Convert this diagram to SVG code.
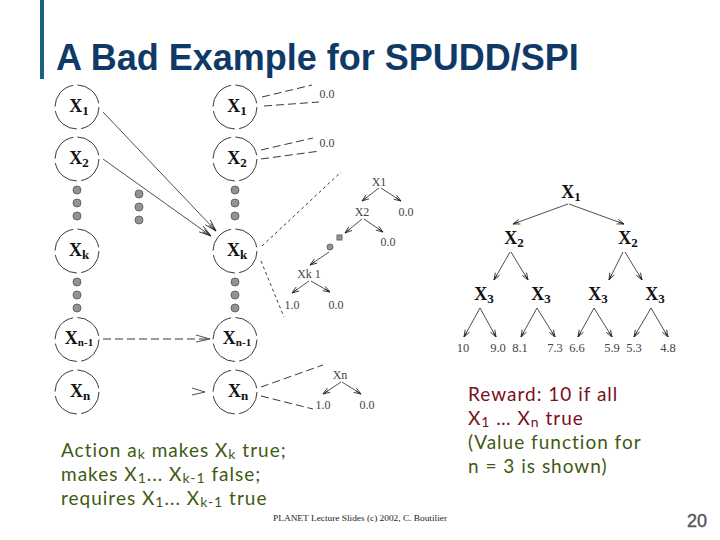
<svg xmlns="http://www.w3.org/2000/svg" width="720" height="540" viewBox="0 0 720 540">
<style>
.c{fill:#fff;stroke:#222;stroke-width:.9;stroke-dasharray:30 4.500}
.d{fill:#939393;stroke:#666;stroke-width:1}
.x{font:bold 18px "Liberation Serif",serif;fill:#111;text-anchor:middle}
.s{font-size:13px}
.n{font-size:11px}
.t{font:12px "Liberation Serif",serif;fill:#444;text-anchor:middle}
.l{font:12.500px "Liberation Serif",serif;fill:#444;text-anchor:middle}
.a{fill:none;stroke:#222;stroke-width:.8;marker-end:url(#o)}
.e{fill:none;stroke:#222;stroke-width:.8;marker-end:url(#p)}
.b{fill:none;stroke:#222;stroke-width:.9;stroke-dasharray:8 4}
.f{fill:none;stroke:#222;stroke-width:.9;stroke-dasharray:3 3}
.g{font:19px "Lato",sans-serif;letter-spacing:1px;fill:#3f5a14}
.r{font:19px "Lato",sans-serif;letter-spacing:1px;fill:#7a1020}
.u{font-size:14px}
</style>
<defs>
<marker id="o" markerUnits="userSpaceOnUse" markerWidth="9" markerHeight="8" refX="8" refY="4" orient="auto"><path d="M1 1.500L8 4L1 6.500M8 4L2 4" fill="none" stroke="#222" stroke-width=".8"/></marker>
<marker id="p" markerUnits="userSpaceOnUse" markerWidth="14" markerHeight="10" refX="13" refY="5" orient="auto"><path d="M1 1.500L13 5L1 8.500M13 5L4 3.500M13 5L4 6.500" fill="none" stroke="#222" stroke-width=".8"/></marker>
</defs>
<rect x="40" y="0" width="4" height="79" fill="#1f5f82"/>
<text x="56" y="70" font-family="Liberation Sans,sans-serif" font-weight="700" font-size="36" fill="#0f3a68">A Bad Example for SPUDD/SPI</text>

<g id="connectors">
<path class="e" d="M103 112L216 231"/>
<path class="e" d="M103 159L211 236"/>
<path class="b" d="M103 339H210"/>
<path d="M196 335L210 339L196 342" fill="none" stroke="#222" stroke-width=".8"/>
<path d="M192 388L205 392L192 395" fill="none" stroke="#222" stroke-width=".8"/>
<path class="b" d="M262 97L312 85M264 106L319 102M261 150L313 138M261 159L320 151M261 387L323 365M261 396L313 409"/>
<path class="f" d="M262 246L341 172M261 261L284 317"/>
<path class="a" d="M379 188L362 201"/><path class="a" d="M381 188L401 201"/>
<path class="a" d="M362 219L345 233"/><path class="a" d="M364 219L383 232"/>
<path class="a" d="M329 252L310 265"/>
<path class="a" d="M309 281L292 293"/><path class="a" d="M311 281L330 292"/>
<path class="a" d="M341 382L323 394"/><path class="a" d="M342 382L361 394"/>
<path class="a" d="M568 204L513 224"/><path class="a" d="M569 204L624 224"/>
<path class="a" d="M510 252L494 280"/><path class="a" d="M511 252L528 280"/>
<path class="a" d="M623 252L609 280"/><path class="a" d="M625 252L642 280"/>
<path class="a" d="M480 308L464 337"/><path class="a" d="M480 308L496 337"/>
<path class="a" d="M537 308L521 337"/><path class="a" d="M537 308L555 337"/>
<path class="a" d="M594 308L578 337"/><path class="a" d="M594 308L612 337"/>
<path class="a" d="M651 308L634 337"/><path class="a" d="M651 308L668 337"/>
</g>

<g id="l1"><circle class="c" cx="77" cy="107" r="22"/><text class="x" x="79" y="112">X<tspan class="s" dy="3">1</tspan></text></g>
<g id="l2"><circle class="c" cx="77" cy="159" r="22"/><text class="x" x="79" y="164">X<tspan class="s" dy="3">2</tspan></text></g>
<g id="lk"><circle class="c" cx="77" cy="251" r="22"/><text class="x" x="79" y="256">X<tspan class="s" dy="3">k</tspan></text></g>
<g id="ln1"><circle class="c" cx="77" cy="339.500" r="22"/><text class="x" x="79" y="344">X<tspan class="n" dy="2">n-1</tspan></text></g>
<g id="ln"><circle class="c" cx="77" cy="392" r="22"/><text class="x" x="80" y="397">X<tspan class="s" dy="3">n</tspan></text></g>
<g id="r1"><circle class="c" cx="235" cy="107" r="22"/><text class="x" x="237" y="112">X<tspan class="s" dy="3">1</tspan></text></g>
<g id="r2"><circle class="c" cx="235" cy="159" r="22"/><text class="x" x="237" y="164">X<tspan class="s" dy="3">2</tspan></text></g>
<g id="rk"><circle class="c" cx="235" cy="251" r="22"/><text class="x" x="237" y="256">X<tspan class="s" dy="3">k</tspan></text></g>
<g id="rn1"><circle class="c" cx="235" cy="339.500" r="22"/><text class="x" x="237" y="344">X<tspan class="n" dy="2">n-1</tspan></text></g>
<g id="rn"><circle class="c" cx="235" cy="392" r="22"/><text class="x" x="238" y="397">X<tspan class="s" dy="3">n</tspan></text></g>

<g id="dots">
<circle class="d" cx="77" cy="190" r="4"/><circle class="d" cx="77" cy="203" r="4"/><circle class="d" cx="77" cy="216" r="4"/>
<circle class="d" cx="139" cy="194" r="4"/><circle class="d" cx="139" cy="207" r="4"/><circle class="d" cx="139" cy="220" r="4"/>
<circle class="d" cx="235" cy="190" r="4"/><circle class="d" cx="235" cy="203" r="4"/><circle class="d" cx="235" cy="216" r="4"/>
<circle class="d" cx="77" cy="282" r="4"/><circle class="d" cx="77" cy="295" r="4"/><circle class="d" cx="77" cy="308" r="4"/>
<circle class="d" cx="235" cy="282" r="4"/><circle class="d" cx="235" cy="295" r="4"/><circle class="d" cx="235" cy="308" r="4"/>
<rect class="d" x="337" y="235" width="5" height="5"/><circle class="d" cx="330" cy="247" r="3"/>
</g>

<g id="small-trees">
<text class="t" x="327" y="98">0.0</text><text class="t" x="327" y="147">0.0</text>
<text class="t" x="379" y="186">X1</text><text class="t" x="362" y="216">X2</text><text class="t" x="406" y="216">0.0</text><text class="t" x="388" y="246">0.0</text>
<text class="t" x="309" y="278" xml:space="preserve">Xk 1</text><text class="t" x="292" y="309">1.0</text><text class="t" x="336" y="309">0.0</text>
<text class="t" x="340" y="379">Xn</text><text class="t" x="323" y="409">1.0</text><text class="t" x="367" y="409">0.0</text>
</g>

<g id="value-tree">
<text class="x" x="571" y="198">X<tspan class="s" dy="3">1</tspan></text>
<text class="x" x="514" y="244">X<tspan class="s" dy="3">2</tspan></text><text class="x" x="628" y="244">X<tspan class="s" dy="3">2</tspan></text>
<text class="x" x="484" y="300">X<tspan class="s" dy="3">3</tspan></text><text class="x" x="541" y="300">X<tspan class="s" dy="3">3</tspan></text>
<text class="x" x="598" y="300">X<tspan class="s" dy="3">3</tspan></text><text class="x" x="655" y="300">X<tspan class="s" dy="3">3</tspan></text>
<text class="l" x="463" y="352">10</text><text class="l" x="498" y="352">9.0</text><text class="l" x="520" y="352">8.1</text><text class="l" x="555" y="352">7.3</text>
<text class="l" x="577" y="352">6.6</text><text class="l" x="612" y="352">5.9</text><text class="l" x="634" y="352">5.3</text><text class="l" x="668" y="352">4.8</text>
</g>

<text class="g" x="61" y="457">Action a<tspan class="u" dy="2">k</tspan><tspan dy="-2"> makes X</tspan><tspan class="u" dy="2">k</tspan><tspan dy="-2"> true;</tspan></text>
<text class="g" x="61" y="481">makes X<tspan class="u" dy="2">1</tspan><tspan dy="-2">... X</tspan><tspan class="u" dy="2">k-1</tspan><tspan dy="-2"> false;</tspan></text>
<text class="g" x="61" y="505">requires X<tspan class="u" dy="2">1</tspan><tspan dy="-2">... X</tspan><tspan class="u" dy="2">k-1</tspan><tspan dy="-2"> true</tspan></text>
<text class="r" x="468" y="401">Reward: 10 if all</text>
<text class="r" x="468" y="425">X<tspan class="u" dy="2">1</tspan><tspan dy="-2"> … X</tspan><tspan class="u" dy="2">n</tspan><tspan dy="-2"> true</tspan></text>
<text class="g" x="468" y="449">(Value function for</text>
<text class="g" x="468" y="473">n = 3 is shown)</text>
<text x="273" y="521" font-family="Liberation Serif,serif" font-size="9" fill="#222" textLength="174" lengthAdjust="spacingAndGlyphs">PLANET Lecture Slides (c) 2002, C. Boutilier</text>
<text x="697" y="527" text-anchor="middle" font-family="Liberation Sans,sans-serif" font-weight="400" font-size="18" stroke="#555" stroke-width=".4" fill="#555">20</text>
</svg>
